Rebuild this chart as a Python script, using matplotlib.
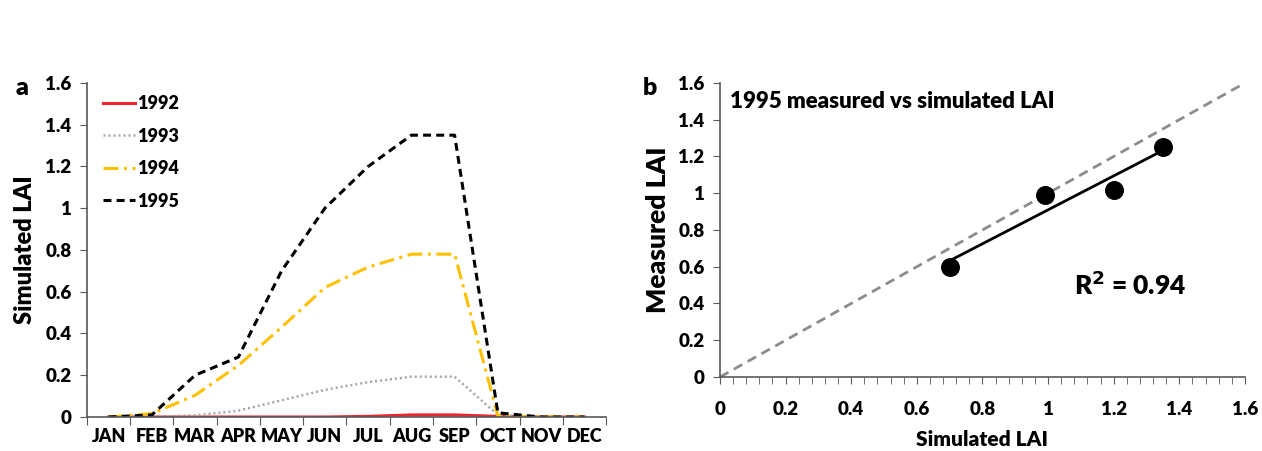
import numpy as np
import matplotlib
matplotlib.use('Agg')
import matplotlib.pyplot as plt

plt.rcParams['font.family'] = ['Lato', 'DejaVu Sans']
plt.rcParams['font.weight'] = 'heavy'

months = ['JAN', 'FEB', 'MAR', 'APR', 'MAY', 'JUN', 'JUL', 'AUG', 'SEP', 'OCT', 'NOV', 'DEC']
lai_1992 = [0, 0, 0, 0, 0, 0, 0.003, 0.01, 0.01, 0.003, 0, 0]
lai_1993 = [0, 0, 0.008, 0.03, 0.08, 0.13, 0.167, 0.193, 0.193, 0.01, 0, 0]
lai_1994 = [0, 0.016, 0.104, 0.247, 0.43, 0.62, 0.718, 0.78, 0.78, 0.005, 0, 0]
lai_1995 = [0, 0.01, 0.2, 0.287, 0.70, 1.0, 1.2, 1.35, 1.35, 0.02, 0, 0]

sim_1995 = [0.70, 0.99, 1.20, 1.35]
meas_1995 = [0.60, 0.99, 1.02, 1.25]
r2_text = 'R$^2$ = 0.94'

ticks = [0, 0.2, 0.4, 0.6, 0.8, 1.0, 1.2, 1.4, 1.6]
tick_labels = ['0', '0.2', '0.4', '0.6', '0.8', '1', '1.2', '1.4', '1.6']

axis_col = '#595959'
W = 'heavy'

fig = plt.figure(figsize=(12.62, 4.51), dpi=100)

# ---- panel a
ax = fig.add_axes([0.0689, 0.0754, 0.4113, 0.7406])
x = np.arange(len(months)) + 0.5
ax.plot(x, lai_1992, color='#E8282E', lw=2.2, label='1992')
ax.plot(x, lai_1993, color='#A6A6A6', lw=1.8, linestyle=(0, (0.8, 1.2)), label='1993')
ax.plot(x, lai_1994, color='#FFC000', lw=2.2, linestyle=(0, (4.9, 1.8, 1, 1.8)), label='1994')
ax.plot(x, lai_1995, color='black', lw=2.2, linestyle=(0, (2.6, 1.7)), label='1995')
ax.set_xlim(0, 12)
ax.set_ylim(0, 1.6)
ax.set_xticks(np.arange(13))
ax.set_xticklabels([])
ax.set_xticks(x, minor=True)
ax.set_xticklabels(months, minor=True, fontweight=W)
ax.tick_params(axis='x', which='minor', length=0, pad=8, labelsize=13)
ax.tick_params(axis='x', which='major', length=6, direction='out', color=axis_col)
ax.set_yticks(ticks)
ax.set_yticklabels(tick_labels, fontweight=W)
ax.tick_params(axis='y', length=5, color=axis_col, labelsize=13.5, pad=6)
for s in ['top', 'right']:
    ax.spines[s].set_visible(False)
for s in ['left', 'bottom']:
    ax.spines[s].set_color(axis_col)
    ax.spines[s].set_linewidth(1.2)
ax.set_ylabel('Simulated LAI', fontsize=17, fontweight=W, labelpad=7)
leg = ax.legend(loc='upper left', bbox_to_anchor=(0.0, 1.012), frameon=False,
                prop={'size': 13, 'weight': W}, handlelength=1.75, handletextpad=0.15,
                labelspacing=0.86)
fig.text(0.012, 0.79, 'a', fontsize=18, fontweight=W)

# ---- panel b
bx = fig.add_axes([0.5705, 0.1641, 0.416, 0.652])
bx.plot([0, 1.6], [0, 1.6], color='#8C8C8C', lw=2, linestyle=(0, (3.5, 2.2)))
k, b0 = np.polyfit(sim_1995, meas_1995, 1)
xf = np.array([min(sim_1995), max(sim_1995)])
bx.plot(xf, k * xf + b0, color='black', lw=2)
bx.scatter(sim_1995, meas_1995, s=160, color='black', zorder=3)
bx.set_xlim(0, 1.6)
bx.set_ylim(0, 1.6)
bx.set_xticks(ticks)
bx.set_xticklabels(tick_labels, fontweight=W)
bx.set_xticks(np.arange(0, 1.601, 0.04), minor=True)
bx.tick_params(axis='x', which='both', length=5, color=axis_col, labelsize=13.5, pad=12)
bx.set_yticks(ticks)
bx.set_yticklabels(tick_labels, fontweight=W)
bx.tick_params(axis='y', length=5, color=axis_col, labelsize=13.5, pad=6)
for s in ['top', 'right']:
    bx.spines[s].set_visible(False)
for s in ['left', 'bottom']:
    bx.spines[s].set_color(axis_col)
    bx.spines[s].set_linewidth(1.2)
bx.set_ylabel('Measured LAI', fontsize=19, fontweight=W, labelpad=6)
bx.set_xlabel('Simulated LAI', fontsize=15, fontweight=W, labelpad=9)
bx.text(0.03, 1.5, '1995 measured vs simulated LAI', fontsize=16, fontweight=W,
        va='center', ha='left')
bx.text(1.25, 0.5, r2_text, fontsize=19, fontweight=W, ha='center', va='center')
fig.text(0.509, 0.79, 'b', fontsize=18, fontweight=W)

fig.savefig('out.png', dpi=100)
